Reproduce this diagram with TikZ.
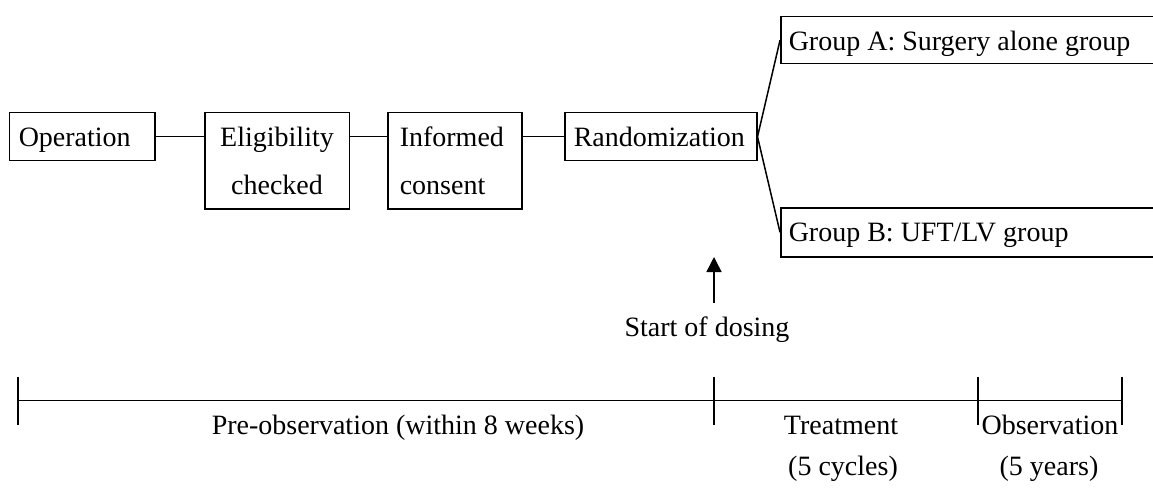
\documentclass[tikz,border=0pt]{standalone}
\usepackage{fontspec}
\setmainfont{Liberation Serif}
\usetikzlibrary{arrows.meta}
\begin{document}
\begin{tikzpicture}[x=1pt,y=-1pt,
  font=\fontsize{28}{48}\selectfont,
  box/.style={draw, line width=1.5pt, anchor=north west, inner ysep=0pt,
    text height=33.5pt, text depth=14.5pt, align=flush left},
  tall/.style={text depth=62.5pt},
  link/.style={line width=1.5pt},
  lbl/.style={anchor=base, inner sep=0pt}]
\useasboundingbox (0,0) rectangle (1153,489);
% boxes
\node[box, inner xsep=9.5pt, text width=126.5pt] (op) at (8.5,112) {Operation};
\node[box, tall, align=flush center, inner xsep=8pt, text width=128.5pt] (el) at (204,112) {Eligibility\\checked};
\node[box, tall, inner xsep=12pt, text width=110pt] (inf) at (387,112) {Informed\\consent};
\node[box, inner xsep=9pt, text width=174pt] (ra) at (564,112) {Randomization};
\node[box, inner xsep=8pt, text width=374pt, text height=34pt, text depth=13pt] (ga) at (780,16) {Group A: Surgery alone group};
\node[box, inner xsep=8pt, text width=374pt, text height=34pt, text depth=15pt] (gb) at (780,207) {Group B: UFT/LV group};
% connectors
\draw[link] (op.east) -- (op.east -| el.west);
\draw[link] (el.east |- op.east) -- (op.east -| inf.west);
\draw[link] (inf.east |- op.east) -- (ra.west);
\draw[link] (ra.east) -- (ga.west);
\draw[link] (ra.east) -- (gb.west);
% start of dosing
\node[lbl] (sd) at (707,336) {Start of dosing};
\coordinate (atail) at (714,303);
\coordinate (atip) at (714,257);
\draw[link, -{Triangle[width=15pt,length=15pt]}] (atail) -- (atip);
% timeline
\coordinate (t0) at (18,400.5);
\coordinate (t1) at (714,400.5);
\coordinate (t2) at (978,400.5);
\coordinate (t3) at (1122,400.5);
\draw[link] (t0) -- (t3);
\foreach \t in {t0,t1,t2,t3} {
  \draw[link] ([yshift=24pt]\t) -- ([yshift=-24pt]\t);
}
\node[lbl] (pre) at (398,434) {Pre-observation (within 8 weeks)};
\node[lbl] (tr) at (841,434) {Treatment};
\node[lbl] (trc) at (843,475) {(5 cycles)};
\node[lbl] (ob) at (1050,434) {Observation};
\node[lbl] (oby) at (1049,475) {(5 years)};
\end{tikzpicture}
\end{document}
